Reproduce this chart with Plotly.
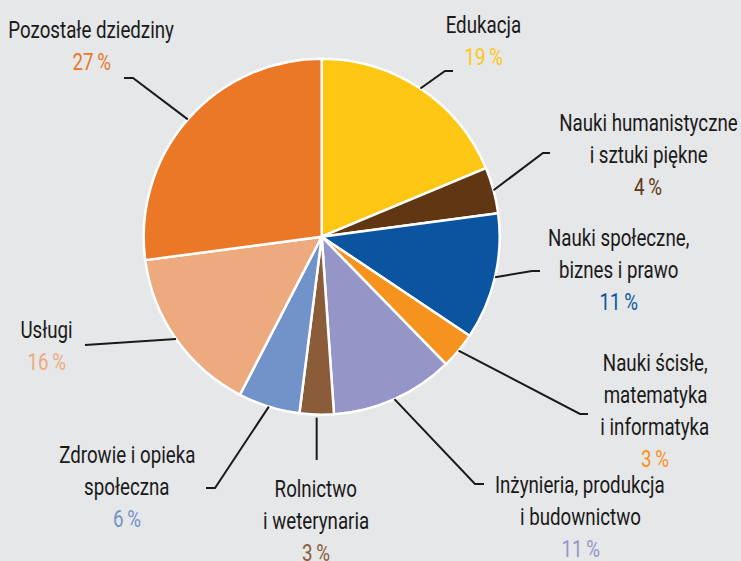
import math
import plotly.graph_objects as go

# ---- data ----
categories = [
    "Edukacja",
    "Nauki humanistyczne i sztuki piękne",
    "Nauki społeczne, biznes i prawo",
    "Nauki ścisłe, matematyka i informatyka",
    "Inżynieria, produkcja i budownictwo",
    "Rolnictwo i weterynaria",
    "Zdrowie i opieka społeczna",
    "Usługi",
    "Pozostałe dziedziny",
]
label_lines = [
    ["Edukacja"],
    ["Nauki humanistyczne", "i sztuki piękne"],
    ["Nauki społeczne,", "biznes i prawo"],
    ["Nauki ścisłe,", "matematyka", "i informatyka"],
    ["Inżynieria, produkcja", "i budownictwo"],
    ["Rolnictwo", "i weterynaria"],
    ["Zdrowie i opieka", "społeczna"],
    ["Usługi"],
    ["Pozostałe dziedziny"],
]
shares = [18.7, 4.2, 11.5, 3.3, 11.2, 3.1, 5.6, 15.3, 27.1]
pct_labels = ["19\u2009%", "4\u2009%", "11\u2009%", "3\u2009%", "11\u2009%",
              "3\u2009%", "6\u2009%", "16\u2009%", "27\u2009%"]

# ---- styles / layout ----
colors = ["#FDC713", "#613713", "#0B55A0", "#F6921E", "#9595C8",
          "#8A5C3A", "#7292CA", "#ECAA7E", "#EA7827"]
W, H = 741, 561
CX, CY, R = 321.7, 236.7, 178.0
FONT = "Roboto, sans-serif"
FS = 24
SQUEEZE = 0.78
LINE_GAP = 32

# label anchor (centre x, first-line y) in pixels
label_pos = [(483, 25), (648, 123), (618, 238), (655, 363), (580, 485),
             (316, 489), (127, 455), (46, 330), (91, 30)]
# leader elbow and tail end in pixels
leader_pts = [((445, 71), (453, 71)), ((543, 153), (550, 153)),
              ((532, 271), (540, 271)), ((580, 414), (588, 414)),
              ((475, 484), (484, 484)), ((None, 460), (None, 460)),
              ((215, 488), (206, 488)), ((85, 345), (85, 345)),
              ((133, 78), (124, 78))]


def px(x):
    return x / W


def py(y):
    return 1 - y / H


fig = go.Figure(go.Pie(
    labels=categories, values=shares, sort=False, direction="clockwise",
    rotation=0, textinfo="none", hoverinfo="label+percent",
    marker=dict(colors=colors, line=dict(color="white", width=2.5)),
    domain=dict(x=[px(CX - R), px(CX + R)], y=[py(CY + R), py(CY - R)]),
    showlegend=False,
))

annotations = []
shapes = []
total = sum(shares)
cum = 0.0
for i, v in enumerate(shares):
    mid = (cum + v / 2) / total * 2 * math.pi
    cum += v
    sx = CX + R * math.sin(mid)
    sy = CY - R * math.cos(mid)
    (ex, ey), (tx, ty) = leader_pts[i]
    if ex is None:
        ex = sx
        tx = sx
        sy += 3
    path = f"M {px(sx)} {py(sy)} L {px(ex)} {py(ey)} L {px(tx)} {py(ty)}"
    shapes.append(dict(type="path", xref="paper", yref="paper", path=path,
                       line=dict(color="#1a1a1a", width=2)))

    lx, ly = label_pos[i]
    lines = label_lines[i] + [pct_labels[i]]
    for j, t in enumerate(lines):
        col = colors[i] if j == len(lines) - 1 else "#1a1a1a"
        annotations.append(dict(
            x=px(lx), y=py(ly + j * LINE_GAP), xref="paper", yref="paper",
            text=t, showarrow=False, xanchor="center", yanchor="middle",
            font=dict(family=FONT, size=FS, color=col)))

fig.update_layout(
    width=W, height=H, margin=dict(l=0, r=0, t=0, b=0),
    paper_bgcolor="#E6E7E8", plot_bgcolor="#E6E7E8",
    annotations=annotations, shapes=shapes,
)

post = """
document.body.style.margin='0';
document.body.style.background='#E6E7E8';
var gd = document.getElementById('{plot_id}');
gd.querySelectorAll('text.annotation-text').forEach(function(t){
  var w = t.getComputedTextLength();
  t.setAttribute('textLength', (w * %s).toFixed(1));
  t.setAttribute('lengthAdjust', 'spacingAndGlyphs');
});
""" % SQUEEZE

fig.write_html("out.html", post_script=post,
               config={"displayModeBar": False})
